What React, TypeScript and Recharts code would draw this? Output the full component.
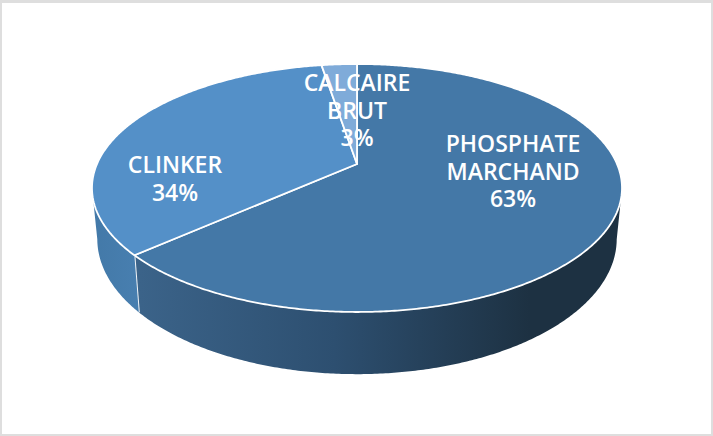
import React from 'react';
import { PieChart, Pie } from 'recharts';

const categories = ['PHOSPHATE MARCHAND', 'CLINKER', 'CALCAIRE BRUT'];
const shares = [63.4, 34, 2.6];
const topColors = ['#4478A7', '#5490C8', '#7FABD9'];
const labelLines = [['PHOSPHATE', 'MARCHAND'], ['CLINKER'], ['CALCAIRE', 'BRUT']];

const rows = categories.map((name, i) => ({ name, value: shares[i], index: i }));

// where each label's first baseline sits, and its horizontal centre
const labelAnchors = [
    { x: 513, y: 152 },
    { x: 175, y: 173 },
    { x: 357, y: 91 },
];

const CX = 357;
const APEX_Y = 164;
const RADIUS = 260;
// the pie is tilted in perspective, so the apex is not the ellipse centre
const TILT = -0.1935;
const SQUASH = 119.35;
const RIM_Y = 188;

const project = (cx: number, cy: number, r: number, deg: number) => {
    const a = (deg * Math.PI) / 180;
    const u = Math.cos(a);
    const v = -Math.sin(a);
    const w = 1 + TILT * v;
    return { x: cx + (r * u) / w, y: cy + (SQUASH * (r / RADIUS) * v) / w };
};

// bottom rim of the wall below a point of the top rim
const dropToBase = (p: { x: number; y: number }, cx: number) => ({
    x: cx + (p.x - cx) * 0.98,
    y: 239 + (p.y - RIM_Y) * 1.09,
});

const toPath = (pts: { x: number; y: number }[]) =>
    pts.map((p, i) => `${i === 0 ? 'M' : 'L'}${p.x.toFixed(2)},${p.y.toFixed(2)}`).join(' ');

const SliceShape = (props: any) => {
    const { cx, cy, outerRadius, startAngle, endAngle, payload } = props;
    const index = payload?.index ?? props.index ?? 0;
    const rim: { x: number; y: number }[] = [];
    const steps = Math.max(8, Math.ceil(Math.abs(endAngle - startAngle) * 2));
    for (let i = 0; i <= steps; i++) {
        rim.push(project(cx, cy, outerRadius, startAngle + ((endAngle - startAngle) * i) / steps));
    }
    const front = rim.filter((p) => p.y >= RIM_Y);
    const base = front.map((p) => dropToBase(p, cx)).reverse();
    const gradId = `wall-${index}`;
    return (
        <g>
            <defs>
                <linearGradient id="wall-0" gradientUnits="userSpaceOnUse" x1="140" y1="0" x2="530" y2="0">
                    <stop offset="0" stopColor="#3B6389" />
                    <stop offset="0.5" stopColor="#2D4F70" />
                    <stop offset="1" stopColor="#1D3142" />
                </linearGradient>
                <linearGradient id="wall-1" gradientUnits="userSpaceOnUse" x1="92" y1="0" x2="140" y2="0">
                    <stop offset="0" stopColor="#4379A8" />
                    <stop offset="1" stopColor="#487FB0" />
                </linearGradient>
            </defs>
            {front.length > 1 && (
                <>
                    <path d={`${toPath([...front, ...base])} Z`} fill={`url(#${gradId})`} />
                    {index === 0 && (
                        <path
                            d={toPath([front[front.length - 1], base[0]])}
                            stroke="#F2F5F8"
                            strokeWidth={2}
                            fill="none"
                        />
                    )}
                </>
            )}
            <path
                d={`${toPath([{ x: cx, y: cy }, ...rim])} Z`}
                fill={topColors[index]}
                stroke="#FFFFFF"
                strokeWidth={1.8}
                strokeLinejoin="round"
            />
        </g>
    );
};

const renderLabel = (props: any) => {
    const index = props.payload?.index ?? props.index ?? 0;
    const anchor = labelAnchors[index];
    const lines = [...labelLines[index], `${Math.round(shares[index])}%`];
    return (
        <text
            key={index}
            x={anchor.x}
            y={anchor.y}
            textAnchor="middle"
            fill="#FFFFFF"
            fontFamily="'Open Sans', sans-serif"
            fontSize={23}
            fontWeight={600}
        >
            {lines.map((line, i) => (
                <tspan key={line} x={anchor.x} dy={i === 0 ? 0 : 27.5}>
                    {line}
                </tspan>
            ))}
        </text>
    );
};

export default function App() {
    return (
        <div style={{ position: 'fixed', left: 0, top: 0, width: 713, height: 436, background: '#FFFFFF' }}>
            <div
                style={{
                    position: 'absolute',
                    inset: 0,
                    boxSizing: 'border-box',
                    borderTop: '3px solid #DEDEDE',
                    borderLeft: '2px solid #DEDEDE',
                    borderRight: '2px solid #DEDEDE',
                    borderBottom: '2px solid #DEDEDE',
                }}
            />
            <div style={{ position: 'absolute', left: 0, top: 0 }}>
                <PieChart width={713} height={436} margin={{ top: 0, right: 0, bottom: 0, left: 0 }}>
                    <Pie
                        data={rows}
                        dataKey="value"
                        nameKey="name"
                        cx={CX}
                        cy={APEX_Y}
                        innerRadius={0}
                        outerRadius={RADIUS}
                        startAngle={90}
                        endAngle={-270}
                        shape={SliceShape}
                        label={renderLabel}
                        labelLine={false}
                        isAnimationActive={false}
                    />
                </PieChart>
            </div>
        </div>
    );
}
